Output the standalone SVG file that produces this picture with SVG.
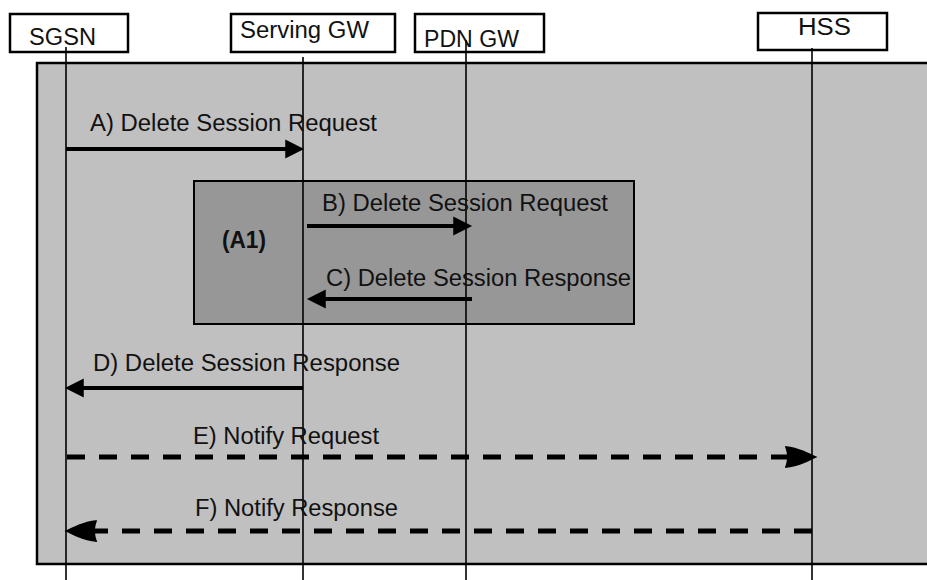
<svg xmlns="http://www.w3.org/2000/svg" width="927" height="580" viewBox="0 0 927 580">
<style>
.t{font-family:"Liberation Sans",Arial,sans-serif;font-size:23px;fill:#111}
.b{font-weight:bold}
.box{fill:#fff;stroke:#000;stroke-width:2.5}
.life{stroke:#000;stroke-width:1.6;fill:none}
.msg{stroke:#000;stroke-width:4;fill:none}
.dash{stroke:#000;stroke-width:5;fill:none;stroke-dasharray:18 14}
</style>
<defs>
<marker id="ah" markerUnits="userSpaceOnUse" markerWidth="20" markerHeight="20" viewBox="0 -9 18 18" refX="7" refY="0" orient="auto">
<path d="M0,-8.5 L17,0 L0,8.5 Z" fill="#000"/>
</marker>
<marker id="dh" markerUnits="userSpaceOnUse" markerWidth="34" markerHeight="24" viewBox="0 -11 32 22" refX="6" refY="0" orient="auto">
<path d="M0,-10.5 C14,-9 22,-4 31,0 C22,4 14,9 0,10.5 C3,4 3,-4 0,-10.5 Z" fill="#000"/>
</marker>
</defs>
<rect id="frame" x="37" y="63" width="895" height="501" fill="#c0c0c0" stroke="#000" stroke-width="2.5"/>
<g id="A1">
<rect x="194" y="181" width="440" height="143" fill="#979797" stroke="#000" stroke-width="2"/>
<text class="t b" x="222" y="248" textLength="44" lengthAdjust="spacingAndGlyphs">(A1)</text>
</g>
<g id="SGSN">
<rect class="box" x="10" y="14" width="118" height="38"/>
<text class="t" x="29" y="45" textLength="67" lengthAdjust="spacingAndGlyphs">SGSN</text>
</g>
<g id="ServingGW">
<rect class="box" x="231" y="14" width="164" height="38"/>
<text class="t" x="240" y="38" textLength="129" lengthAdjust="spacingAndGlyphs">Serving GW</text>
</g>
<g id="PDNGW">
<rect class="box" x="415" y="14" width="129" height="38"/>
<text class="t" x="424" y="47" textLength="95" lengthAdjust="spacingAndGlyphs">PDN GW</text>
</g>
<g id="HSS">
<rect class="box" x="758" y="13" width="129" height="37"/>
<text class="t" x="798" y="35" textLength="53" lengthAdjust="spacingAndGlyphs">HSS</text>
</g>
<g id="connectors">
<line class="life" x1="66" y1="47" x2="66" y2="580"/>
<line class="life" x1="303" y1="57" x2="303" y2="580"/>
<line class="life" x1="466" y1="40" x2="466" y2="580"/>
<line class="life" x1="812" y1="48" x2="812" y2="580"/>
<line class="msg" x1="66" y1="149" x2="293" y2="149" marker-end="url(#ah)"/>
<line class="msg" x1="307" y1="226" x2="461" y2="226" marker-end="url(#ah)"/>
<line class="msg" x1="472" y1="299" x2="318" y2="299" marker-end="url(#ah)"/>
<line class="msg" x1="303" y1="388" x2="76" y2="388" marker-end="url(#ah)"/>
<line class="dash" x1="67" y1="457" x2="791" y2="457" marker-end="url(#dh)"/>
<line class="dash" x1="812" y1="531" x2="91" y2="531" marker-end="url(#dh)"/>
</g>
<g id="labels">
<text class="t" x="90" y="131" textLength="287" lengthAdjust="spacingAndGlyphs">A) Delete Session Request</text>
<text class="t" x="322" y="211" textLength="286" lengthAdjust="spacingAndGlyphs">B) Delete Session Request</text>
<text class="t" x="326" y="286" textLength="305" lengthAdjust="spacingAndGlyphs">C) Delete Session Response</text>
<text class="t" x="93" y="371" textLength="307" lengthAdjust="spacingAndGlyphs">D) Delete Session Response</text>
<text class="t" x="193" y="444" textLength="186" lengthAdjust="spacingAndGlyphs">E) Notify Request</text>
<text class="t" x="195" y="516" textLength="203" lengthAdjust="spacingAndGlyphs">F) Notify Response</text>
</g>
</svg>
